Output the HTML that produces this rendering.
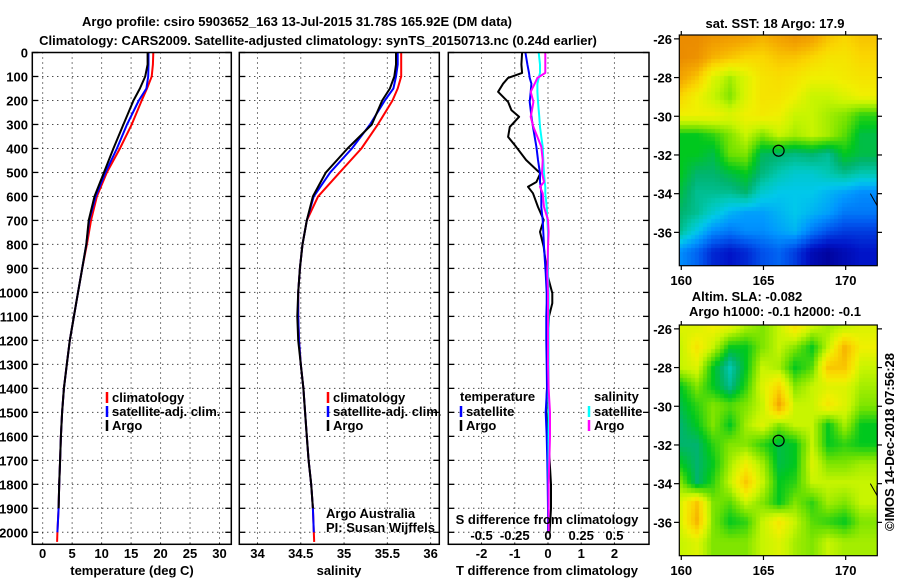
<!DOCTYPE html>
<html><head><meta charset="utf-8">
<style>
html,body{margin:0;padding:0;background:#fff;}
body{width:900px;height:580px;overflow:hidden;position:relative;font-family:"Liberation Sans",sans-serif;}
svg{position:absolute;left:0;top:0;}
text{font-family:"Liberation Sans",sans-serif;}
.b{font-weight:bold;font-size:13px;}
canvas{position:absolute;}
</style></head>
<body>
<svg id="s" width="900" height="580"></svg>
<canvas id="m1" width="198" height="231" style="left:679px;top:35px"></canvas>
<canvas id="m2" width="198" height="231" style="left:679px;top:325px"></canvas>
<svg id="ov" width="900" height="580"></svg>
<script>
// ---------- data ----------
const depthT = [0,50,100,150,200,300,400,500,600,700,800,900,1000,1100,1200,1300,1400,1500,1600,1700,1800,1900,2000,2040];
const tempClim = [18.76,18.7,18.5,17.7,16.8,15.1,13.1,10.9,9.2,8.2,7.5,6.7,6.0,5.3,4.6,4.1,3.6,3.3,3.1,2.95,2.8,2.7,2.5,2.45];
const tempSat  = [17.96,17.95,17.9,17.6,16.3,14.3,12.6,10.65,9.0,7.9,7.4,6.7,6.0,5.3,4.6,4.1,3.6,3.3,3.1,2.95,2.8,2.7,2.5,2.5];
const tempArgo = [17.8,17.8,17.4,16.5,15.4,13.7,12.0,10.4,8.8,7.8,7.4,6.7,6.0,5.3,4.6,4.1,3.6,3.3,3.1,2.95,2.8,2.7,2.5,2.5];
const salClim = [35.66,35.66,35.66,35.62,35.56,35.39,35.2,34.95,34.7,34.57,34.52,34.49,34.47,34.47,34.48,34.5,34.53,34.55,34.57,34.59,34.62,34.64,34.65,34.655];
const salSat  = [35.62,35.62,35.6,35.57,35.47,35.3,35.09,34.84,34.65,34.57,34.52,34.49,34.47,34.47,34.48,34.5,34.53,34.55,34.57,34.59,34.62,34.64,34.65,34.65];
const salArgo = [35.6,35.6,35.58,35.53,35.44,35.32,35.04,34.79,34.64,34.57,34.52,34.49,34.47,34.46,34.47,34.5,34.53,34.55,34.57,34.59,34.62,34.64,34.65,34.65];
const depthD = [0,50,85,106,130,164,206,240,268,310,352,393,448,504,540,560,587,644,698,748,810,920,1003,1045,1100,1200,1300,1400,1500,1600,1700,1800,1900,2000];
const dTArgo = [-0.78,-0.8,-0.78,-1.2,-1.35,-1.5,-1.2,-1.1,-0.87,-1.15,-1.2,-0.96,-0.66,-0.23,-0.35,-0.6,-0.45,-0.3,-0.13,-0.24,-0.13,-0.03,0.13,0.13,0.03,0.0,0.0,-0.03,-0.05,0.02,0.05,0.09,0.09,0.05];
const dTSat  = [-0.68,-0.62,-0.57,-0.55,-0.5,-0.52,-0.55,-0.52,-0.5,-0.45,-0.4,-0.35,-0.3,-0.24,-0.24,-0.22,-0.2,-0.2,-0.16,-0.14,-0.12,-0.07,-0.04,-0.04,-0.05,-0.05,-0.04,-0.03,-0.07,-0.04,-0.02,-0.01,0.0,0.0];
const dSArgo = [-0.02,-0.02,-0.02,-0.08,-0.1,-0.13,-0.11,-0.12,-0.13,-0.11,-0.08,-0.05,-0.04,-0.045,-0.03,-0.06,-0.04,-0.03,0.0,0.005,0.0,-0.005,0.0,0.0,0.0,0.0,0.0,0.005,0.015,0.015,0.01,0.005,0.005,0.005];
const dSSat  = [-0.07,-0.06,-0.06,-0.07,-0.08,-0.08,-0.075,-0.07,-0.065,-0.06,-0.05,-0.04,-0.035,-0.03,-0.025,-0.02,-0.02,-0.01,-0.005,0,0,0,0.005,0.005,0.005,0.005,0.005,0.005,0.005,0.005,0.005,0.005,0.005,0.005];
const depthTicks = [0,100,200,300,400,500,600,700,800,900,1000,1100,1200,1300,1400,1500,1600,1700,1800,1900,2000];
const tempTicks = [0,5,10,15,20,25,30];
const salTicks = [34,34.5,35,35.5,36];
const salTickLabels = ["34","34.5","35","35.5","36"];
const dTTicks = [-2,-1,0,1,2];
const dSTicks = [-0.5,-0.25,0,0.25,0.5];
const dSTickLabels = ["-0.5","-0.25","0","0.25","0.5"];
const latTicks = [-26,-28,-30,-32,-34,-36];
const lonTicks = [160,165,170];
// map grids (rows lat -26..-37, cols lon 160..171), colour index 0..1
const sstGrid = [
[0.78,0.78,0.76,0.75,0.74,0.72,0.74,0.76,0.74,0.7,0.68,0.7],
[0.78,0.77,0.72,0.7,0.68,0.68,0.7,0.7,0.68,0.66,0.66,0.68],
[0.74,0.7,0.62,0.58,0.62,0.66,0.67,0.66,0.64,0.64,0.65,0.66],
[0.68,0.64,0.6,0.56,0.62,0.66,0.66,0.64,0.6,0.6,0.62,0.64],
[0.64,0.64,0.64,0.62,0.64,0.65,0.64,0.6,0.6,0.58,0.56,0.52],
[0.5,0.5,0.52,0.56,0.6,0.56,0.6,0.58,0.6,0.58,0.54,0.48],
[0.5,0.5,0.48,0.55,0.56,0.47,0.46,0.45,0.46,0.44,0.5,0.48],
[0.5,0.46,0.46,0.48,0.5,0.45,0.42,0.4,0.4,0.42,0.44,0.42],
[0.48,0.44,0.44,0.44,0.46,0.4,0.38,0.38,0.38,0.36,0.34,0.32],
[0.46,0.44,0.4,0.36,0.34,0.34,0.36,0.38,0.36,0.34,0.3,0.3],
[0.44,0.38,0.32,0.3,0.32,0.32,0.34,0.36,0.3,0.26,0.24,0.24],
[0.32,0.28,0.22,0.2,0.22,0.26,0.28,0.24,0.18,0.16,0.18,0.2]];
const slaGrid = [
[0.62,0.62,0.64,0.62,0.58,0.56,0.6,0.66,0.6,0.58,0.6,0.62],
[0.6,0.66,0.6,0.5,0.5,0.56,0.6,0.56,0.5,0.6,0.72,0.64],
[0.6,0.62,0.5,0.42,0.5,0.6,0.58,0.5,0.54,0.7,0.7,0.6],
[0.5,0.56,0.5,0.44,0.52,0.62,0.68,0.56,0.6,0.62,0.62,0.58],
[0.48,0.52,0.56,0.54,0.56,0.6,0.74,0.6,0.6,0.66,0.62,0.56],
[0.46,0.5,0.56,0.5,0.58,0.62,0.56,0.6,0.6,0.5,0.58,0.5],
[0.46,0.46,0.52,0.56,0.56,0.52,0.48,0.5,0.6,0.5,0.52,0.5],
[0.5,0.46,0.5,0.58,0.64,0.58,0.48,0.5,0.62,0.56,0.56,0.58],
[0.56,0.46,0.52,0.6,0.7,0.6,0.5,0.52,0.6,0.6,0.6,0.6],
[0.62,0.7,0.56,0.54,0.6,0.56,0.5,0.56,0.52,0.58,0.56,0.6],
[0.62,0.72,0.56,0.5,0.52,0.6,0.66,0.6,0.54,0.52,0.5,0.56],
[0.6,0.62,0.56,0.56,0.56,0.6,0.62,0.58,0.56,0.6,0.58,0.58]];
const floatLon = 165.92, floatLat = -31.78;

// ---------- helpers ----------
const NS='http://www.w3.org/2000/svg';
const svg=document.getElementById('s');
function el(tag,attrs,parent){const e=document.createElementNS(NS,tag);for(const k in attrs)e.setAttribute(k,attrs[k]);(parent||svg).appendChild(e);return e;}
function txt(x,y,s,anchor,cls,parent,extra){const t=el('text',Object.assign({x:x,y:y,'text-anchor':anchor||'start',class:cls||'b'},extra||{}),parent);t.textContent=s;return t;}
const yTop=52.5, yBot=544.3;
const yD=d=>52.5+d*0.23990;
function panel(name,x0,x1,xmin,xmax){
  const sx=v=>x0+(v-xmin)/(xmax-xmin)*(x1-x0);
  const g=el('g',{});
  
  
  return {g,sx,x0,x1};
}
function grid(p,xt){
  depthTicks.forEach(d=>{const y=yD(d);
    const l=el('line',{x1:p.x0,x2:p.x1,y1:y,y2:y,stroke:'#000','stroke-width':1,'stroke-dasharray':'1,4'},p.g);
    
    el('line',{x1:p.x0,x2:p.x0+6,y1:y,y2:y,stroke:'#000','stroke-width':1.3},p.g);
    el('line',{x1:p.x1,x2:p.x1-6,y1:y,y2:y,stroke:'#000','stroke-width':1.3},p.g);
  });
  xt.forEach(v=>{const x=p.sx(v);
    const l=el('line',{x1:x,x2:x,y1:yTop,y2:yBot,stroke:'#000','stroke-width':1,'stroke-dasharray':'1,4'},p.g);
    
  });
}
function frame(p){const r=el('rect',{x:p.x0,y:yTop,width:p.x1-p.x0,height:yBot-yTop,fill:'none',stroke:'#000','stroke-width':1.5},p.g);
  }
function line(p,xs,ds,color,name,sc){
  const f=sc||p.sx;
  const pts=xs.map((v,i)=>f(v).toFixed(1)+','+yD(ds[i]).toFixed(1)).join(' ');
  const l=el('polyline',{points:pts,fill:'none',stroke:color,'stroke-width':2,'stroke-linejoin':'round'},p.g);
  
}
function legItem(x,y,color,label,name){
  const g=el('g',{});
  
  el('line',{x1:x,x2:x,y1:y-10,y2:y+1,stroke:color,'stroke-width':2.5},g);
  txt(x+5,y,label,'start','b',g,{'font-size':'12'});
}

// titles
const t1=txt(297,26,'Argo profile: csiro 5903652_163 13-Jul-2015 31.78S 165.92E (DM data)','middle','b',null,{'font-size':'14'});

const t2=txt(318,45,'Climatology: CARS2009. Satellite-adjusted climatology: synTS_20150713.nc (0.24d earlier)','middle','b',null,{'font-size':'14'});


// panel 1 temperature
const p1=panel('temperature-panel',32.3,231.3,-1.76,32.0);
grid(p1,tempTicks);
line(p1,tempClim,depthT,'#ff0000','temp-climatology-line');
line(p1,tempSat.slice(0,23),depthT.slice(0,23),'#0000ff','temp-satellite-line');
line(p1,tempArgo.slice(0,22),depthT.slice(0,22),'#000000','temp-argo-line');
frame(p1);
depthTicks.forEach(d=>{const t=txt(28,yD(d)+5,String(d),'end','b',null,{'font-size':'13'});
  });
tempTicks.forEach(v=>{const t=txt(p1.sx(v),558,String(v),'middle','b',null,{'font-size':'13'});
  });
const xt1=txt(132,575,'temperature (deg C)','middle','b',null,{'font-size':'13'});

legItem(107,402,'#ff0000','climatology','legend-climatology');
legItem(107,416,'#0000ff','satellite-adj. clim.','legend-satellite');
legItem(107,430,'#000000','Argo','legend-argo');

// panel 2 salinity
const p2=panel('salinity-panel',239.3,439.3,33.79,36.1);
grid(p2,salTicks);
line(p2,salClim,depthT,'#ff0000','sal-climatology-line');
line(p2,salSat.slice(0,23),depthT.slice(0,23),'#0000ff','sal-satellite-line');
line(p2,salArgo.slice(0,22),depthT.slice(0,22),'#000000','sal-argo-line');
frame(p2);
salTicks.forEach((v,i)=>{const t=txt(p2.sx(v),558,salTickLabels[i],'middle','b',null,{'font-size':'13'});
  });
const xt2=txt(339,575,'salinity','middle','b',null,{'font-size':'13'});

legItem(328,402,'#ff0000','climatology','legend-climatology-2');
legItem(328,416,'#0000ff','satellite-adj. clim.','legend-satellite-2');
legItem(328,430,'#000000','Argo','legend-argo-2');
const c1=txt(326,518,'Argo Australia','start','',null,{'font-size':'12'});

const c2=txt(326,532,'PI: Susan Wijffels','start','',null,{'font-size':'12'});


// panel 3 differences
const p3=panel('difference-panel',448.3,649,-3.0,3.04);
const sS=v=>p3.sx(v*4);
grid(p3,dTTicks);
line(p3,dTArgo,depthD,'#000000','temp-diff-argo-line');
line(p3,dTSat,depthD,'#0000ff','temp-diff-satellite-line');
line(p3,dSSat,depthD,'#00ffff','sal-diff-satellite-line',sS);
line(p3,dSArgo,depthD,'#ff00ff','sal-diff-argo-line',sS);
frame(p3);
dTTicks.forEach(v=>{const t=txt(p3.sx(v),558,String(v),'middle','b',null,{'font-size':'13'});
  });
dSTicks.forEach((v,i)=>{const t=txt(sS(v),540,dSTickLabels[i],'middle','b',null,{'font-size':'12'});
  });
const st=txt(547,524,'S difference from climatology','middle','b',null,{'font-size':'12'});

const xt3=txt(547,575,'T difference from climatology','middle','b',null,{'font-size':'13'});

const lt=txt(460,401,'temperature','start','b',null,{'font-size':'12'});

legItem(461,416,'#0000ff','satellite','legend-tdiff-satellite');
legItem(461,430,'#000000','Argo','legend-tdiff-argo');
const ls=txt(594,401,'salinity','start','b',null,{'font-size':'12'});

legItem(589,416,'#00ffff','satellite','legend-sdiff-satellite');
legItem(589,430,'#ff00ff','Argo','legend-sdiff-argo');

// ---------- maps ----------
const cmapStops=[[0.15,[0,0,150]],[0.2,[0,20,200]],[0.27,[0,90,240]],[0.33,[0,150,255]],[0.38,[0,200,235]],[0.42,[0,200,180]],[0.46,[0,180,110]],[0.5,[0,200,30]],[0.55,[110,225,0]],[0.6,[200,245,0]],[0.64,[240,240,0]],[0.68,[250,215,0]],[0.73,[245,170,0]],[0.78,[235,140,0]],[0.82,[220,115,0]]];
function cmap(v){
  if(v<=cmapStops[0][0])return 'rgb('+cmapStops[0][1].join(',')+')';
  for(let k=1;k<cmapStops.length;k++){if(v<=cmapStops[k][0]){
    const [a0,c0]=cmapStops[k-1],[a1,c1]=cmapStops[k],t=(v-a0)/(a1-a0);
    return 'rgb('+c0.map((c,i)=>Math.round(c+(c1[i]-c)*t)).join(',')+')';}}
  return 'rgb('+cmapStops[cmapStops.length-1][1].join(',')+')';
}
const mLon=x=>679.3+(x-159.88)*16.44;
function mLat(y,top){return top+(-25.8-y)*19.35;}
function drawMap(id,gridv){
  const c=document.getElementById(id).getContext('2d');
  const cell=4.1, rows=gridv.length, cols=gridv[0].length;
  for(let py=0;py<231;py+=cell){for(let px=0;px<198;px+=cell){
    const lon=159.88+(px+cell/2)/16.44, lat=-25.8-(py+cell/2)/19.35;
    let fx=Math.max(0,Math.min(cols-1.001,lon-160)), fy=Math.max(0,Math.min(rows-1.001,-26-lat));
    const i=Math.floor(fy), j=Math.floor(fx), a=fy-i, b=fx-j;
    const v=gridv[i][j]*(1-a)*(1-b)+gridv[i][j+1]*(1-a)*b+gridv[i+1][j]*a*(1-b)+gridv[i+1][j+1]*a*b;
    c.fillStyle=cmap(v);c.fillRect(Math.floor(px),Math.floor(py),Math.ceil(cell)+1,Math.ceil(cell)+1);
  }}
}
drawMap('m1',sstGrid);drawMap('m2',slaGrid);
const ov=document.getElementById('ov');
function oel(tag,attrs){return el(tag,attrs,ov);}
[[35,'sst'],[325,'sla']].forEach(([top,nm])=>{
  const r=oel('rect',{x:679.3,y:top,width:198,height:230.7,fill:'none',stroke:'#000','stroke-width':1.2});
  
  latTicks.forEach(v=>{const y=mLat(v,top);
    oel('line',{x1:674,x2:679.3,y1:y,y2:y,stroke:'#000','stroke-width':1.2});
    oel('line',{x1:877.3,x2:882,y1:y,y2:y,stroke:'#000','stroke-width':1.2});
    const t=txt(672,y+5,String(v),'end','b',ov,{'font-size':'13'});
    });
  lonTicks.forEach(v=>{const x=mLon(v);
    oel('line',{x1:x,x2:x,y1:top-4,y2:top,stroke:'#000','stroke-width':1.2});
    oel('line',{x1:x,x2:x,y1:top+230.7,y2:top+235,stroke:'#000','stroke-width':1.2});
    const t=txt(x,top+250,String(v),'middle','b',ov,{'font-size':'13'});
    });
  const c=oel('circle',{cx:mLon(floatLon),cy:mLat(floatLat,top),r:5.5,fill:'none',stroke:'#000','stroke-width':1.2});
  
  oel('polyline',{points:(mLon(171.5))+','+mLat(-34,top)+' '+mLon(171.9)+','+mLat(-34.6,top)+' '+mLon(171.9)+','+mLat(-34.1,top),fill:'none',stroke:'#000','stroke-width':1});
});
const mt1=txt(775,28,'sat. SST: 18 Argo: 17.9','middle','b',ov,{'font-size':'12'});

const mt2=txt(747,301,'Altim. SLA: -0.082','middle','b',ov,{'font-size':'12'});

const mt3=txt(775,316,'Argo h1000: -0.1 h2000: -0.1','middle','b',ov,{'font-size':'12'});

const cp=txt(0,0,'©IMOS 14-Dec-2018 07:56:28','middle','',ov,{'font-size':'12',transform:'translate(894,442) rotate(-90)'});

</script>
</body></html>
